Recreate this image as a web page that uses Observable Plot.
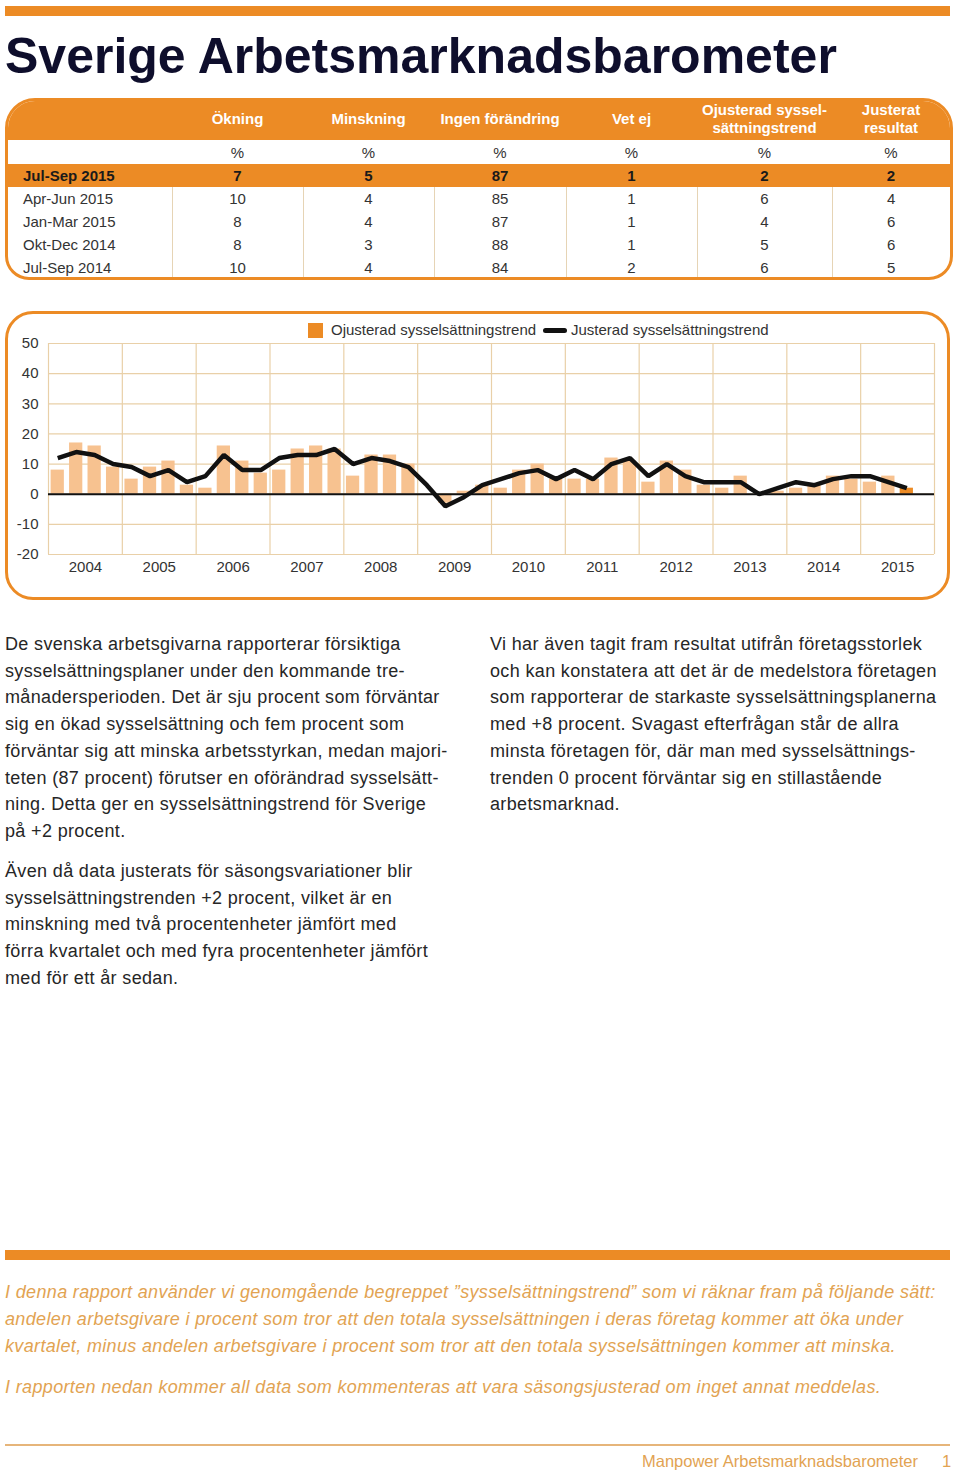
<!DOCTYPE html>
<html>
<head>
<meta charset="utf-8">
<script src="https://cdn.jsdelivr.net/npm/d3@7"></script>
<script src="https://cdn.jsdelivr.net/npm/@observablehq/plot@0.6"></script>
<style>
  html, body { margin: 0; padding: 0; background: #fff; }
  body { width: 960px; height: 1472px; position: relative; font-family: "Liberation Sans", Arial, sans-serif; color: #2b2b2b; overflow: hidden; }
  .abs { position: absolute; }
  .bar { position: absolute; background: #ec8b25; }
  #title { left: 5px; top: 31px; font-size: 50px; line-height: 50px; font-weight: bold; color: #0e0e2c; white-space: nowrap; }
  #tbl { left: 5px; top: 98px; width: 948px; height: 182px; border: 3px solid #ec8b25; border-radius: 30px 30px 24px 24px; overflow: hidden; box-sizing: border-box; }
  #tbl table { width: 942px; table-layout: fixed; border-collapse: collapse; font-size: 15px; }
  #tbl td { padding: 0; text-align: center; vertical-align: middle; white-space: nowrap; }
  #tbl tr.hd { height: 39px; background: #ec8b25; color: #fff; font-weight: bold; }
  #tbl tr.hd td { line-height: 18px; padding-bottom: 3px; }
  #tbl tr.pct { height: 24px; color: #333; }
  #tbl tr.cur { height: 23px; background: #ec8b25; color: #1a1a1a; font-weight: bold; }
  #tbl tr.body { height: 23px; color: #333; }
  #tbl td.lbl { text-align: left; padding-left: 15px; }
  #tbl tr.body td + td { border-left: 1.5px solid #e6d4b5; }
  #chartbox { left: 5px; top: 311px; width: 945px; height: 289px; border: 3px solid #ec8b25; border-radius: 28px; box-sizing: border-box; }
  #chart { left: 0; top: 312px; width: 960px; height: 290px; }
  #legend { left: 0; top: 320px; font-size: 15px; color: #333; }
  .txt { font-size: 18px; letter-spacing: 0.35px; line-height: 26.7px; white-space: nowrap; color: #262626; }
  .foot { font-size: 18px; letter-spacing: 0.35px; line-height: 27px; white-space: nowrap; color: #e2a352; font-style: italic; }
</style>
</head>
<body>
<div class="bar" style="left:5px;top:6px;width:945px;height:10px"></div>
<div id="title" class="abs">Sverige Arbetsmarknadsbarometer</div>
<div id="tbl" class="abs"></div>
<div id="chartbox" class="abs"></div>
<div id="chart" class="abs"></div>
<div id="legend" class="abs"></div>

<div class="abs txt" style="left:5px;top:631px">De svenska arbetsgivarna rapporterar försiktiga<br>sysselsättningsplaner under den kommande tre-<br>månadersperioden. Det är sju procent som förväntar<br>sig en ökad sysselsättning och fem procent som<br>förväntar sig att minska arbetsstyrkan, medan majori-<br>teten (87 procent) förutser en oförändrad sysselsätt-<br>ning. Detta ger en sysselsättningstrend för Sverige<br>på +2 procent.</div>
<div class="abs txt" style="left:5px;top:858px">Även då data justerats för säsongsvariationer blir<br>sysselsättningstrenden +2 procent, vilket är en<br>minskning med två procentenheter jämfört med<br>förra kvartalet och med fyra procentenheter jämfört<br>med för ett år sedan.</div>
<div class="abs txt" style="left:490px;top:631px">Vi har även tagit fram resultat utifrån företagsstorlek<br>och kan konstatera att det är de medelstora företagen<br>som rapporterar de starkaste sysselsättningsplanerna<br>med +8 procent. Svagast efterfrågan står de allra<br>minsta företagen för, där man med sysselsättnings-<br>trenden 0 procent förväntar sig en stillastående<br>arbetsmarknad.</div>

<div class="bar" style="left:5px;top:1250px;width:945px;height:10px"></div>
<div class="abs foot" style="left:5px;top:1279px">I denna rapport använder vi genomgående begreppet ”sysselsättningstrend” som vi räknar fram på följande sätt:<br>andelen arbetsgivare i procent som tror att den totala sysselsättningen i deras företag kommer att öka under<br>kvartalet, minus andelen arbetsgivare i procent som tror att den totala sysselsättningen kommer att minska.</div>
<div class="abs foot" style="left:5px;top:1374px">I rapporten nedan kommer all data som kommenteras att vara säsongsjusterad om inget annat meddelas.</div>
<div class="abs" style="left:5px;top:1444px;width:945px;height:1.5px;background:#e6b57a"></div>
<div class="abs" style="left:642px;top:1448px;font-size:16.5px;line-height:26px;color:#e2a352;white-space:nowrap">Manpower Arbetsmarknadsbarometer</div>
<div class="abs" style="left:942px;top:1448px;font-size:16.5px;line-height:26px;color:#e2a352">1</div>

<script>
// ---------- Table data ----------
const colHeaders = ["Ökning", "Minskning", "Ingen förändring", "Vet ej", "Ojusterad syssel-<br>sättningstrend", "Justerat<br>resultat"];
const rowLabels = ["Jul-Sep 2015", "Apr-Jun 2015", "Jan-Mar 2015", "Okt-Dec 2014", "Jul-Sep 2014"];
const okning = [7, 10, 8, 8, 10];
const minskning = [5, 4, 4, 3, 4];
const ingenForandring = [87, 85, 87, 88, 84];
const vetEj = [1, 1, 1, 1, 2];
const ojusteradTabell = [2, 6, 4, 5, 6];
const justeratResultat = [2, 4, 6, 6, 5];

// ---------- Chart data (quarterly, 2004 Q1 – 2015 Q3) ----------
const years = [2004, 2005, 2006, 2007, 2008, 2009, 2010, 2011, 2012, 2013, 2014, 2015];
const yTicks = [-20, -10, 0, 10, 20, 30, 40, 50];
const ojusterad = [
  8, 17, 16, 9,
  5, 9, 11, 3,
  2, 16, 11, 7,
  8, 15, 16, 15,
  6, 13, 13, 10,
  0, -3, 1, 3,
  2, 8, 10, 5,
  5, 5, 12, 11,
  4, 11, 8, 3,
  2, 6, 0, 1,
  2, 3, 6, 5,
  4, 6, 2
];
const justerad = [
  12, 14, 13, 10,
  9, 6, 8, 4,
  6, 13, 8, 8,
  12, 13, 13, 15,
  10, 12, 11, 9,
  3, -4, -1, 3,
  5, 7, 8, 5,
  8, 5, 10, 12,
  6, 10, 6, 4,
  4, 4, 0, 2,
  4, 3, 5, 6,
  6, 4, 2
];
const legendLabels = ["Ojusterad sysselsättningstrend", "Justerad sysselsättningstrend"];

// ---------- Build table ----------
const columns = [okning, minskning, ingenForandring, vetEj, ojusteradTabell, justeratResultat];
let html = '<table><colgroup><col style="width:164px">' +
  [131, 131, 132, 131, 135, 118].map(w => `<col style="width:${w}px">`).join("") + '</colgroup>';
html += '<tr class="hd"><td></td>' + colHeaders.map(h => `<td>${h}</td>`).join("") + '</tr>';
html += '<tr class="pct"><td></td>' + colHeaders.map(() => `<td>%</td>`).join("") + '</tr>';
rowLabels.forEach((lab, r) => {
  html += `<tr class="${r === 0 ? "cur" : "body"}"><td class="lbl">${lab}</td>` +
    columns.map(c => `<td>${c[r]}</td>`).join("") + '</tr>';
});
html += '</table>';
document.getElementById("tbl").innerHTML = html;

// ---------- Build chart ----------
const table = ojusterad.map((v, i) => {
  const year = years[Math.floor(i / 4)];
  const q = i % 4;
  return {
    x1: year + q / 4,
    x2: year + (q + 1) / 4,
    xm: year + (q + 0.5) / 4,
    ojust: v,
    just: justerad[i],
    current: i === ojusterad.length - 1
  };
});

const light = "#f7c290";
const dark = "#ec8b25";
const gridColor = "#e9d0a8";

const chart = Plot.plot({
  width: 960,
  height: 290,
  marginLeft: 48,
  marginRight: 26,
  marginTop: 31,
  marginBottom: 48,
  x: {domain: [years[0], years[years.length - 1] + 1], axis: null},
  y: {domain: [yTicks[0], yTicks[yTicks.length - 1]], axis: null},
  style: {fontFamily: '"Liberation Sans", Arial, sans-serif', fontSize: "15px", color: "#333", background: "transparent", overflow: "visible"},
  marks: [
    Plot.gridX(years.concat([years[years.length - 1] + 1]), {stroke: gridColor, strokeOpacity: 1, strokeWidth: 1.2}),
    Plot.gridY(yTicks, {stroke: gridColor, strokeOpacity: 1, strokeWidth: 1.2}),
    Plot.rectY(table, {x1: "x1", x2: "x2", y1: 0, y2: "ojust", fill: d => d.current ? dark : light, insetLeft: 2.6, insetRight: 2.6}),
    Plot.ruleY([0], {stroke: "#111", strokeWidth: 2}),
    Plot.lineY(table, {x: "xm", y: "just", stroke: "#111", strokeWidth: 4.5, strokeLinejoin: "miter", strokeLinecap: "butt"}),
    Plot.axisX(years.map(y => y + 0.5), {tickSize: 0, tickPadding: 7, tickFormat: d => String(Math.floor(d)), fontSize: 15, fill: "#333"}),
    Plot.axisY(yTicks, {tickSize: 0, tickPadding: 10, tickFormat: d => String(d), fontSize: 15, fill: "#333"})
  ]
});
document.getElementById("chart").appendChild(chart);

// ---------- Legend ----------
const lg = document.getElementById("legend");
lg.innerHTML =
  `<div class="abs" style="left:308px;top:3px;width:15px;height:15px;background:${dark}"></div>` +
  `<div class="abs" style="left:331px;top:0px;line-height:20px;white-space:nowrap">${legendLabels[0]}</div>` +
  `<div class="abs" style="left:543px;top:7.5px;width:24px;height:5px;border-radius:2.5px;background:#111"></div>` +
  `<div class="abs" style="left:571px;top:0px;line-height:20px;white-space:nowrap">${legendLabels[1]}</div>`;
</script>
</body>
</html>
